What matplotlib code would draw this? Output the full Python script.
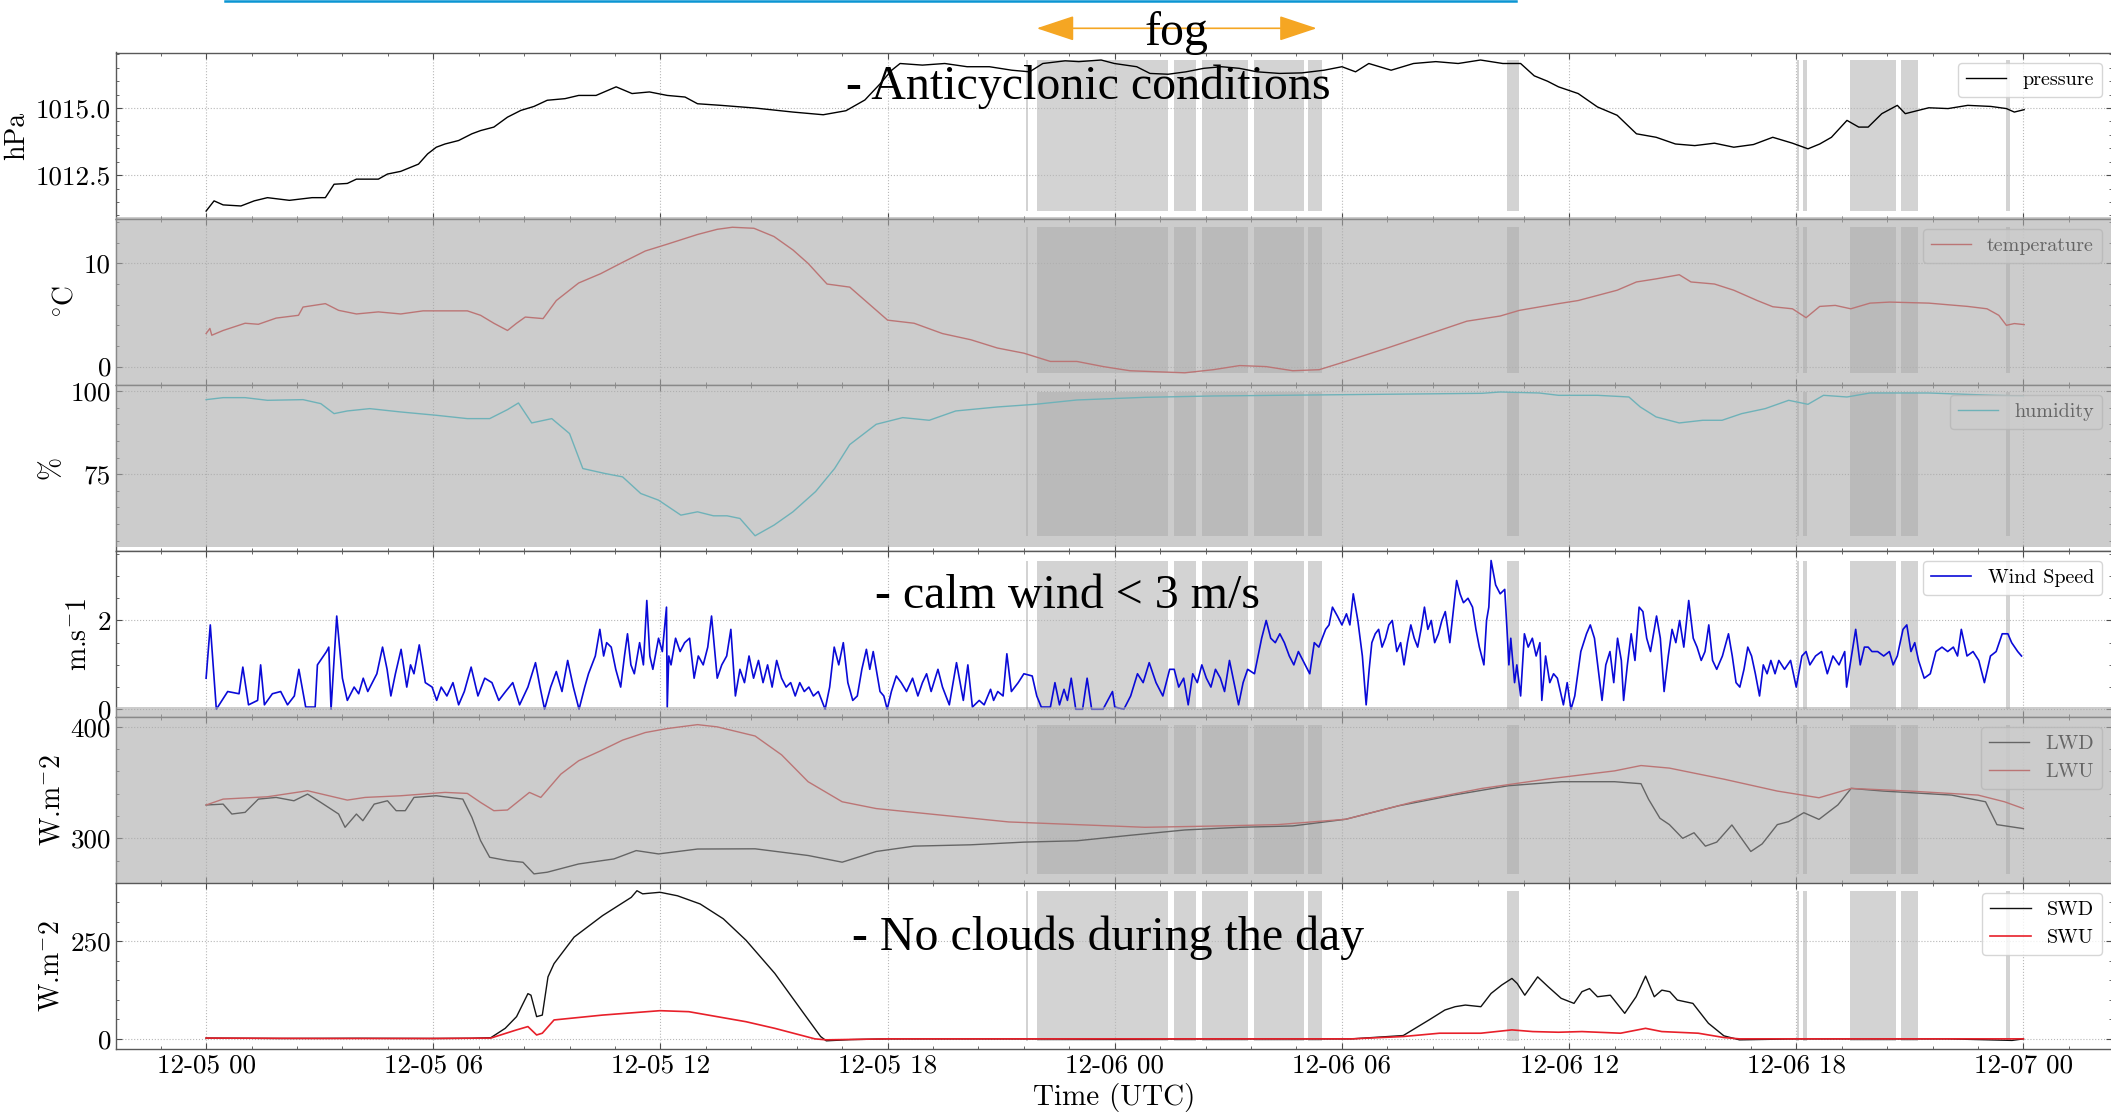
import datetime as dt
import numpy as np
import matplotlib
matplotlib.use("Agg")
import matplotlib.pyplot as plt
import matplotlib.dates as mdates
from matplotlib.ticker import MultipleLocator, AutoMinorLocator, FormatStrFormatter
from matplotlib.patches import Rectangle, FancyArrowPatch, ArrowStyle
from matplotlib.lines import Line2D

plt.rcParams['font.family'] = 'serif'
plt.rcParams['font.serif'] = ['cmr10']
plt.rcParams['mathtext.fontset'] = 'cm'
plt.rcParams['axes.formatter.use_mathtext'] = True

# ---------------- data (hours after 12-05 00 UTC, value) ----------------
pressure = [(0,1011.16),(0.21,1011.54),(0.45,1011.39),(0.92,1011.35),(1.27,1011.54),(1.62,1011.66),(2.2,1011.56),
            (2.8,1011.66),(3.15,1011.66),(3.38,1012.16),(3.73,1012.19),(3.97,1012.35),(4.55,1012.35),(4.79,1012.54),
            (5.14,1012.64),(5.61,1012.91),(5.85,1013.29),(6.08,1013.54),(6.31,1013.66),(6.67,1013.79),(7.02,1014.04),
            (7.25,1014.16),(7.6,1014.29),(7.96,1014.66),(8.31,1014.91),(8.66,1015.06),(9.01,1015.29),(9.48,1015.35),
            (9.84,1015.47),(10.3,1015.47),(10.83,1015.79),(11.25,1015.54),(11.71,1015.6),(12.18,1015.47),(12.65,1015.41),
            (12.98,1015.16),(13.6,1015.1),(14.5,1015.0),(15.5,1014.85),(16.3,1014.75),(16.9,1014.9),(17.4,1015.3),
            (17.8,1015.9),(18.1,1016.4),(18.33,1016.66),(18.92,1016.6),(19.51,1016.66),(20.1,1016.54),(20.69,1016.54),
            (21.28,1016.41),(21.75,1016.35),(22.1,1016.66),(22.69,1016.76),(23.05,1016.73),(23.64,1016.79),(23.99,1016.66),
            (24.58,1016.54),(24.93,1016.29),(25.41,1016.26),(25.88,1016.35),(26.35,1016.48),(26.82,1016.54),(27.29,1016.48),
            (27.76,1016.35),(28.35,1016.29),(28.94,1016.31),(29.53,1016.41),(30.0,1016.54),(30.36,1016.35),(30.71,1016.66),
            (31.3,1016.41),(31.89,1016.66),(32.48,1016.73),(33.07,1016.66),(33.66,1016.79),(34.25,1016.66),(34.72,1016.66),
            (35.08,1016.2),(35.43,1016.0),(35.72,1015.79),(36.24,1015.54),(36.75,1015.04),(37.27,1014.73),(37.78,1014.04),
            (38.3,1013.91),(38.81,1013.66),(39.32,1013.6),(39.84,1013.69),(40.35,1013.54),(40.87,1013.64),(41.38,1013.91),
            (41.9,1013.69),(42.31,1013.48),(42.62,1013.66),(42.93,1013.91),(43.34,1014.54),(43.65,1014.29),(43.9,1014.29),
            (44.26,1014.79),(44.67,1015.1),(44.88,1014.79),(45.5,1015.01),(46.01,1014.98),(46.53,1015.1),(47.14,1015.06),
            (47.55,1014.98),(47.76,1014.85),(48.02,1014.94)]

temperature = [(0,3.2),(0.1,3.7),(0.15,3.04),(0.45,3.5),(1.03,4.2),(1.38,4.1),(1.85,4.7),(2.44,4.97),(2.56,5.77),
               (3.15,6.1),(3.5,5.45),(3.97,5.1),(4.55,5.3),(5.14,5.1),(5.73,5.4),(6.9,5.4),(7.25,4.97),(7.6,4.2),
               (7.96,3.5),(8.2,4.2),(8.43,4.8),(8.9,4.65),(9.25,6.4),(9.84,8.1),(10.42,9.0),(11.0,10.1),(11.6,11.2),
               (12.18,11.86),(12.98,12.8),(13.5,13.3),(13.9,13.5),(14.47,13.4),(15.0,12.6),(15.5,11.3),(15.9,10.0),
               (16.4,8.0),(17.0,7.7),(17.5,6.1),(18.0,4.5),(18.7,4.2),(19.45,3.2),(20.2,2.6),(20.9,1.8),(21.6,1.3),
               (22.3,0.5),(23.0,0.5),(23.7,0.0),(24.4,-0.4),(25.1,-0.5),(25.85,-0.6),(26.6,-0.3),(27.3,0.1),(28.0,0.0),
               (28.7,-0.4),(29.4,-0.3),(30.1,0.5),(31.2,1.8),(32.25,3.1),(33.3,4.4),(34.18,4.9),(34.69,5.45),(35.72,6.1),
               (36.24,6.4),(37.27,7.4),(37.78,8.2),(38.3,8.5),(38.91,8.9),(39.22,8.2),(39.84,8.0),(40.35,7.4),(40.97,6.4),
               (41.38,5.8),(41.9,5.6),(42.26,4.74),(42.62,5.83),(43.03,5.93),(43.44,5.6),(43.95,6.15),(44.47,6.25),
               (45.5,6.15),(46.53,5.83),(47.04,5.6),(47.35,4.97),(47.55,4.0),(47.76,4.17),(48.02,4.07)]

humidity = [(0,97.4),(0.45,98),(1.03,98),(1.62,97.2),(2.56,97.4),(3.03,96.2),(3.38,93.2),(3.73,94),(4.32,94.7),
            (5.14,93.7),(6.08,92.7),(6.9,91.7),(7.49,91.7),(7.96,94.4),(8.25,96.4),(8.6,90.4),(9.13,91.7),(9.6,87.2),
            (9.95,76.7),(10.54,75.2),(11.0,74.2),(11.48,69.2),(11.95,67.2),(12.54,62.7),(12.98,63.7),(13.4,62.5),
            (13.76,62.5),(14.1,61.7),(14.5,56.5),(15.0,59.7),(15.5,63.7),(16.1,69.8),(16.6,76.7),(17.0,83.9),(17.7,90.0),
            (18.4,92),(19.1,91.2),(19.8,94.0),(20.9,95.2),(21.9,96.0),(23.0,97.3),(24.8,98.1),(26.6,98.5),(30.1,98.9),
            (33.7,99.3),(34.18,99.7),(35.21,99.4),(35.72,98.7),(36.75,98.7),(37.58,98.2),(37.88,95.2),(38.3,92.2),
            (38.91,90.4),(39.53,91.2),(40.04,91.2),(40.56,93.2),(41.18,94.7),(41.8,97.2),(42.31,96.0),(42.72,98.7),
            (43.34,98.2),(43.95,99.4),(45.5,99.4),(47.2,98.7),(48.0,98.5)]

wind = [(0.0,0.7),(0.11,1.9),(0.27,0.0),(0.57,0.4),(0.87,0.35),(0.97,0.95),(1.12,0.1),(1.36,0.2),(1.44,1.0),(1.54,0.1),
        (1.75,0.35),(1.97,0.4),(2.15,0.1),(2.33,0.3),(2.45,0.9),(2.63,0.05),(2.88,0.05),(2.94,1.0),(3.06,1.15),(3.18,1.3),
        (3.24,1.4),(3.30,0.0),(3.45,2.1),(3.60,0.7),(3.73,0.2),(3.91,0.5),(4.03,0.35),(4.15,0.7),(4.27,0.4),(4.39,0.6),
        (4.51,0.8),(4.66,1.4),(4.78,0.9),(4.88,0.3),(5.0,0.8),(5.15,1.35),(5.30,0.5),(5.40,1.0),(5.49,0.8),(5.63,1.45),
        (5.79,0.6),(5.97,0.5),(6.09,0.2),(6.21,0.5),(6.36,0.3),(6.52,0.6),(6.67,0.1),(6.82,0.4),(7.0,0.95),(7.18,0.3),
        (7.36,0.7),(7.55,0.6),(7.73,0.2),(7.91,0.4),(8.1,0.6),(8.28,0.1),(8.5,0.5),(8.70,1.05),(8.82,0.5),(8.94,0.0),
        (9.1,0.5),(9.25,0.85),(9.4,0.4),(9.55,1.1),(9.7,0.5),(9.85,0.0),(10.0,0.5),(10.10,0.8),(10.28,1.2),(10.40,1.8),
        (10.50,1.2),(10.58,1.5),(10.70,1.4),(10.82,0.9),(10.95,0.5),(11.05,1.2),(11.13,1.7),(11.22,1.0),(11.31,0.8),
        (11.45,1.5),(11.55,1.0),(11.64,2.45),(11.72,1.2),(11.80,0.9),(11.95,1.6),(12.05,1.3),(12.16,2.3),(12.18,0.05),
        (12.22,1.2),(12.28,1.0),(12.40,1.6),(12.52,1.3),(12.64,1.5),(12.77,1.6),(12.89,0.7),(13.0,1.2),(13.13,1.0),
        (13.25,1.4),(13.35,2.1),(13.50,0.7),(13.62,1.0),(13.75,1.2),(13.86,1.8),(13.98,0.3),(14.10,0.9),(14.22,0.6),
        (14.34,1.2),(14.46,0.7),(14.59,1.1),(14.71,0.6),(14.83,1.0),(14.95,0.5),(15.07,1.1),(15.2,0.7),(15.32,0.5),
        (15.44,0.6),(15.56,0.3),(15.68,0.6),(15.80,0.4),(15.92,0.5),(16.04,0.3),(16.17,0.4),(16.35,0.0),(16.47,0.5),
        (16.59,1.4),(16.71,1.0),(16.83,1.5),(16.95,0.6),(17.08,0.2),(17.2,0.3),(17.32,0.9),(17.44,1.35),(17.53,0.9),
        (17.62,1.3),(17.80,0.4),(17.9,0.3),(17.99,0.0),(18.1,0.4),(18.23,0.75),(18.36,0.6),(18.5,0.4),(18.66,0.7),
        (18.8,0.3),(18.92,0.6),(19.03,0.8),(19.15,0.4),(19.33,0.9),(19.45,0.5),(19.63,0.1),(19.82,1.05),(20.0,0.2),
        (20.12,1.0),(20.24,0.05),(20.42,0.2),(20.55,0.1),(20.72,0.45),(20.8,0.2),(20.91,0.4),(21.05,0.3),(21.15,1.25),
        (21.27,0.4),(21.45,0.6),(21.6,0.8),(21.82,0.75),(21.94,0.3),(22.06,0.05),(22.30,0.05),(22.42,0.6),(22.54,0.1),
        (22.66,0.45),(22.75,0.2),(22.85,0.7),(22.97,0.0),(23.15,0.0),(23.27,0.7),(23.39,0.0),(23.69,0.0),(23.94,0.4),
        (24.0,0.05),(24.24,0.0),(24.42,0.3),(24.60,0.8),(24.75,0.6),(24.91,1.05),(25.09,0.6),(25.27,0.3),(25.45,0.9),
        (25.57,0.9),(25.69,0.5),(25.82,0.7),(25.94,0.1),(26.06,0.8),(26.18,0.6),(26.30,1.0),(26.42,0.7),(26.54,0.5),
        (26.66,0.9),(26.79,0.7),(26.9,0.4),(27.03,1.1),(27.15,0.6),(27.27,0.1),(27.39,0.6),(27.51,0.9),(27.69,0.8),
        (27.88,1.6),(28.0,2.0),(28.12,1.6),(28.24,1.5),(28.36,1.7),(28.48,1.5),(28.61,1.2),(28.73,1.0),(28.85,1.3),
        (28.97,1.1),(29.15,0.8),(29.27,1.5),(29.39,1.4),(29.48,1.6),(29.57,1.8),(29.66,1.9),(29.75,2.3),(29.88,2.1),
        (30.0,1.9),(30.12,2.15),(30.21,1.9),(30.30,2.6),(30.42,2.0),(30.54,1.2),(30.64,0.1),(30.72,0.9),(30.79,1.5),
        (30.88,1.7),(30.97,1.8),(31.06,1.4),(31.15,1.6),(31.24,1.9),(31.33,2.0),(31.45,1.3),(31.55,1.5),(31.64,1.0),
        (31.73,1.5),(31.82,1.9),(31.91,1.6),(32.0,1.4),(32.09,1.8),(32.18,2.3),(32.27,1.8),(32.36,2.0),(32.45,1.5),
        (32.55,1.7),(32.64,2.0),(32.73,2.2),(32.85,1.5),(32.94,2.2),(33.03,2.9),(33.12,2.6),(33.21,2.4),(33.33,2.5),
        (33.45,2.3),(33.54,1.8),(33.63,1.4),(33.75,1.0),(33.82,2.0),(33.88,2.3),(33.94,3.35),(34.06,2.8),(34.18,2.6),
        (34.30,2.7),(34.36,1.8),(34.41,1.0),(34.46,1.6),(34.56,0.6),(34.62,1.0),(34.72,0.3),(34.82,1.7),(34.92,1.4),
        (35.03,1.6),(35.13,1.2),(35.23,1.5),(35.28,0.2),(35.38,1.2),(35.49,0.6),(35.59,0.8),(35.69,0.7),(35.85,0.1),
        (35.95,0.6),(36.05,0.0),(36.15,0.3),(36.31,1.3),(36.46,1.7),(36.56,1.9),(36.67,1.6),(36.77,0.9),(36.87,0.2),
        (36.97,1.0),(37.08,1.3),(37.18,0.6),(37.28,1.6),(37.38,1.1),(37.44,0.2),(37.54,1.0),(37.64,1.7),(37.74,1.1),
        (37.85,2.3),(37.95,2.2),(38.05,1.6),(38.15,1.3),(38.31,2.1),(38.41,1.6),(38.51,0.4),(38.62,1.2),(38.72,1.8),
        (38.82,1.5),(38.92,2.0),(39.03,1.4),(39.16,2.45),(39.28,1.6),(39.38,1.4),(39.49,1.1),(39.59,1.3),(39.69,1.9),
        (39.79,1.1),(39.90,0.9),(40.05,1.2),(40.21,1.7),(40.31,1.2),(40.41,0.6),(40.51,0.5),(40.62,0.9),(40.72,1.4),
        (40.82,1.2),(40.92,0.8),(41.03,0.3),(41.13,1.0),(41.23,0.8),(41.33,1.1),(41.44,0.8),(41.54,1.1),(41.69,0.9),
        (41.85,1.1),(42.0,0.5),(42.15,1.2),(42.26,1.3),(42.36,1.0),(42.51,1.2),(42.67,1.3),(42.82,0.8),(42.97,1.2),
        (43.13,1.0),(43.28,1.3),(43.33,0.5),(43.44,1.1),(43.57,1.8),(43.69,1.0),(43.80,1.4),(43.90,1.4),(44.0,1.3),
        (44.15,1.3),(44.31,1.2),(44.46,1.3),(44.56,1.0),(44.67,1.2),(44.82,1.8),(44.92,1.9),(45.03,1.3),(45.13,1.5),
        (45.23,1.1),(45.38,0.7),(45.54,0.8),(45.69,1.3),(45.85,1.4),(46.0,1.3),(46.15,1.4),(46.26,1.2),(46.36,1.8),
        (46.51,1.2),(46.67,1.3),(46.82,1.1),(46.97,0.6),(47.13,1.2),(47.28,1.3),(47.44,1.7),(47.59,1.7),(47.69,1.5),
        (47.85,1.3),(47.95,1.2)]

lwd = [(0,329.9),(0.45,330.7),(0.68,321.8),(1.03,323.3),(1.38,335.2),(1.85,336.7),(2.32,333.7),(2.68,339.7),(3.03,332.2),
       (3.5,321.8),(3.67,309.9),(3.97,321.8),(4.14,315.8),(4.44,330.7),(4.79,333.7),(5.02,324.8),(5.26,324.8),(5.49,336.7),
       (6.08,338.2),(6.78,335.2),(7.02,318.8),(7.25,297.9),(7.49,283),(7.96,280),(8.37,278.5),(8.66,268.1),(9.01,269.6),
       (9.84,277),(10.77,281.5),(11.36,289),(11.95,286),(12.98,290.4),(14.5,290.6),(15.9,284.6),(16.8,278.6),(17.7,288.2),
       (18.7,293),(20.2,294.2),(21.6,296.6),(23.0,297.8),(24.4,302.7),(25.85,307.5),(27.3,309.9),(28.7,311.1),(30.1,317.1),
       (31.5,329.2),(32.95,338.8),(34.4,347.2),(35.8,350.8),(37.2,350.8),(37.9,349),(38.1,335),(38.4,318),(38.65,312.3),
       (39.0,300),(39.3,305),(39.6,293),(39.9,296.6),(40.3,312),(40.8,288.2),(41.1,295),(41.5,312.3),(41.8,315),(42.2,323),
       (42.6,317),(43.1,330),(43.45,344.8),(44.3,342.4),(46.1,338.8),(47.0,332.8),(47.3,312.3),(48.0,308.7)]

lwu = [(0,329.9),(0.45,335.2),(1.62,337.3),(2.68,342.7),(3.73,334.3),(4.2,336.7),(5.14,338.2),(6.31,341.2),(6.9,340.3),
       (7.25,332.2),(7.6,324.8),(7.96,325.4),(8.54,341.2),(8.84,336.7),(9.37,357.6),(9.84,369.6),(10.42,378.5),(11.0,388.1),
       (11.6,394.9),(12.18,398.5),(12.98,402),(13.5,400),(14.5,391.8),(15.2,374.9),(15.9,350.8),(16.8,332.8),(17.7,326.7),
       (19.45,320.7),(21.2,314.7),(23.0,312.3),(24.8,309.9),(26.6,311),(28.3,312.3),(30.1,317.1),(31.9,332.8),(33.7,344.8),
       (35.45,353.3),(37.2,360.5),(37.9,365.3),(38.65,363),(40.1,353),(41.5,342.4),(42.6,336.4),(43.45,344.8),(45.0,342.4),
       (46.8,338.8),(47.5,332.8),(48.0,326.7)]

swd = [(0,2),(2,1),(4,1.5),(6,1),(7.0,1.5),(7.52,3),(7.9,27),(8.2,57),(8.5,116),(8.58,112),(8.73,57),(8.88,61),(9.03,159),
       (9.19,193),(9.72,261),(10.47,316),(11.23,363),(11.38,380),(11.53,372),(11.99,376),(12.45,367),(13.05,346),
       (13.66,308),(14.26,253),(15.02,168),(15.78,66),(16.23,6),(16.38,-5),(17,-2),(18,0),(20,0),(22,0),(24,-1),(26,0),
       (28,0),(30.26,0),(31.62,8.5),(32.3,48.5),(32.72,74),(32.99,82.5),(33.26,86.7),(33.67,82.5),(33.94,116.5),
       (34.22,138),(34.49,155),(34.63,142),(34.83,112),(35.17,159),(35.45,133.5),(35.79,104),(36.13,91),(36.34,121),
       (36.54,129),(36.75,108),(37.09,112),(37.47,65.5),(37.77,108),(38.02,161),(38.25,108),(38.45,125),(38.66,121),
       (38.86,99.5),(39.27,91),(39.68,40),(40.09,7.7),(40.5,-2.5),(42,0),(44,0),(46,0),(47.3,-3),(47.7,-4),(48,0)]

swu = [(0,2),(3,1),(6,1),(7.52,2),(8.2,23),(8.5,31.5),(8.73,10),(8.88,14.5),(9.19,48.5),(10.47,61),(11.99,72.3),
       (12.75,69.7),(14.26,44),(15.02,27),(16.08,0),(16.38,-2.5),(18,0),(24,0),(30.26,0),(31.62,6),(32.58,14.5),
       (33.67,14.5),(34.49,23),(35.04,18.7),(35.72,17),(36.34,18.7),(37.36,14.5),(38.02,27),(38.45,18.7),(39.41,14.5),
       (40.09,3.4),(40.5,0),(44,0),(48,0)]

fog_periods = [(21.66,21.72),(21.95,25.41),(25.56,26.15),(26.30,27.52),(27.69,28.99),(29.10,29.47),(34.36,34.69),
               (42.02,42.08),(42.19,42.28),(43.41,44.63),(44.78,45.22),(47.55,47.64)]

# ---------------- helpers ----------------
base = mdates.date2num(dt.datetime(2016, 12, 5))
def tx(pairs):
    a = np.array(pairs, dtype=float)
    return base + a[:, 0] / 24.0, a[:, 1]

W, H = 2111, 1114
fig = plt.figure(figsize=(W / 100, H / 100), dpi=100)

left_px, right_px = 116, 2112
top_px, bot_px = 52.5, 1049
n = 6
ph = (bot_px - top_px) / n
axes = []
for i in range(n):
    y_top = top_px + i * ph
    ax = fig.add_axes([left_px / W, 1 - (y_top + ph) / H, (right_px - left_px) / W, ph / H])
    axes.append(ax)

panels = [
    dict(series=[(pressure, 'k', 'pressure', 1.0)], ylim=(1010.88, 1017.07), major=2.5, ylabel='hPa', fmt='%.1f'),
    dict(series=[(temperature, 'tab:red', 'temperature', 1.0)], ylim=(-1.75, 14.34), major=10, ylabel=r'$^{\circ}\mathrm{C}$', fmt='%d'),
    dict(series=[(humidity, '#17becf', 'humidity', 1.0)], ylim=(52.0, 101.9), major=25, ylabel='%', fmt='%d'),
    dict(series=[(wind, '#0a0ad8', 'Wind Speed', 1.2)], ylim=(-0.17, 3.57), major=2, ylabel=r'm.s$^{-}$1', fmt='%d'),
    dict(series=[(lwd, 'k', 'LWD', 1.0), (lwu, 'tab:red', 'LWU', 1.0)], ylim=(260, 409), major=100, ylabel=r'W.m$^{-}$2', fmt='%d'),
    dict(series=[(swd, '#111111', 'SWD', 1.0), (swu, '#e8202a', 'SWU', 1.2)], ylim=(-26, 400), major=250, ylabel=r'W.m$^{-}$2', fmt='%d'),
]

xlim = (base - 2.38 / 24, base + 50.34 / 24)
for ax, p in zip(axes, panels):
    allv = np.concatenate([tx(s[0])[1] for s in p['series']])
    lo, hi = allv.min(), allv.max()
    for a, b in fog_periods:
        ax.fill_between([base + a / 24, base + b / 24], lo, hi, color='lightgray', lw=0, zorder=1)
    for data, col, lab, lw in p['series']:
        x, y = tx(data)
        ax.plot(x, y, color=col, lw=lw, label=lab, zorder=3)
    ax.set_xlim(*xlim)
    ax.set_ylim(*p['ylim'])
    ax.yaxis.set_major_locator(MultipleLocator(p['major']))
    ax.yaxis.set_minor_locator(AutoMinorLocator())
    ax.yaxis.set_major_formatter(FormatStrFormatter(p['fmt']))
    ax.xaxis.set_major_locator(mdates.HourLocator(byhour=[0, 6, 12, 18]))
    ax.xaxis.set_minor_locator(MultipleLocator(0.05))
    ax.xaxis.set_major_formatter(mdates.DateFormatter('%m-%d %H'))
    ax.grid(True, which='major', linestyle=':', linewidth=0.8, color='0.72', zorder=0)
    ax.tick_params(which='both', direction='in', top=True, right=True, colors='0.3', labelcolor='k', labelsize=19.5)
    ax.tick_params(which='major', length=4.5, width=0.8)
    ax.tick_params(which='minor', length=2.5, width=0.6)
    for s in ax.spines.values():
        s.set_color('0.35')
        s.set_linewidth(1.0)
    ax.set_ylabel(p['ylabel'], fontsize=20)
    ax.legend(loc='upper right', fontsize=14.5, framealpha=0.8, fancybox=True, edgecolor='0.8')
    if ax is not axes[-1]:
        ax.tick_params(labelbottom=False)

axes[-1].set_xlabel('Time (UTC)', fontsize=21)

# ---------------- presentation overlays ----------------
ov_col = (0.667, 0.667, 0.667)
for y0, y1 in [(216.7, 546.7), (706.7, 883.0)]:
    fig.add_artist(Rectangle((left_px / W, 1 - y1 / H), 1.0, (y1 - y0) / H, transform=fig.transFigure,
                             facecolor=ov_col, alpha=0.6, edgecolor='none', zorder=20))

fig.add_artist(Line2D([225 / W, 1516 / W], [1 - 1.2 / H, 1 - 1.2 / H], transform=fig.transFigure,
                      color='#0b95d3', lw=1.8, zorder=30))

arrow = FancyArrowPatch(posA=(1036.7 / W, 1 - 28.3 / H), posB=(1316.7 / W, 1 - 28.3 / H),
                        transform=fig.transFigure,
                        arrowstyle=ArrowStyle('<|-|>', head_length=23.8, head_width=7.9),
                        mutation_scale=1, color='#f5a623', lw=1.2, shrinkA=0, shrinkB=0, zorder=30)
fig.add_artist(arrow)

serif = ['Liberation Serif', 'DejaVu Serif']
fig.text(1176.7 / W, 1 - 33 / H, 'fog', family=serif, fontsize=34.5, ha='center', va='center', zorder=35)
fig.text(845.5 / W, 1 - 87 / H, '- Anticyclonic conditions', family=serif, fontsize=34.5, ha='left', va='center', zorder=35)
fig.text(875 / W, 1 - 596 / H, '- calm wind < 3 m/s', family=serif, fontsize=34.5, ha='left', va='center', zorder=35)
fig.text(852 / W, 1 - 938 / H, '- No clouds during the day', family=serif, fontsize=34.5, ha='left', va='center', zorder=35)

fig.savefig('out.png', dpi=100)
